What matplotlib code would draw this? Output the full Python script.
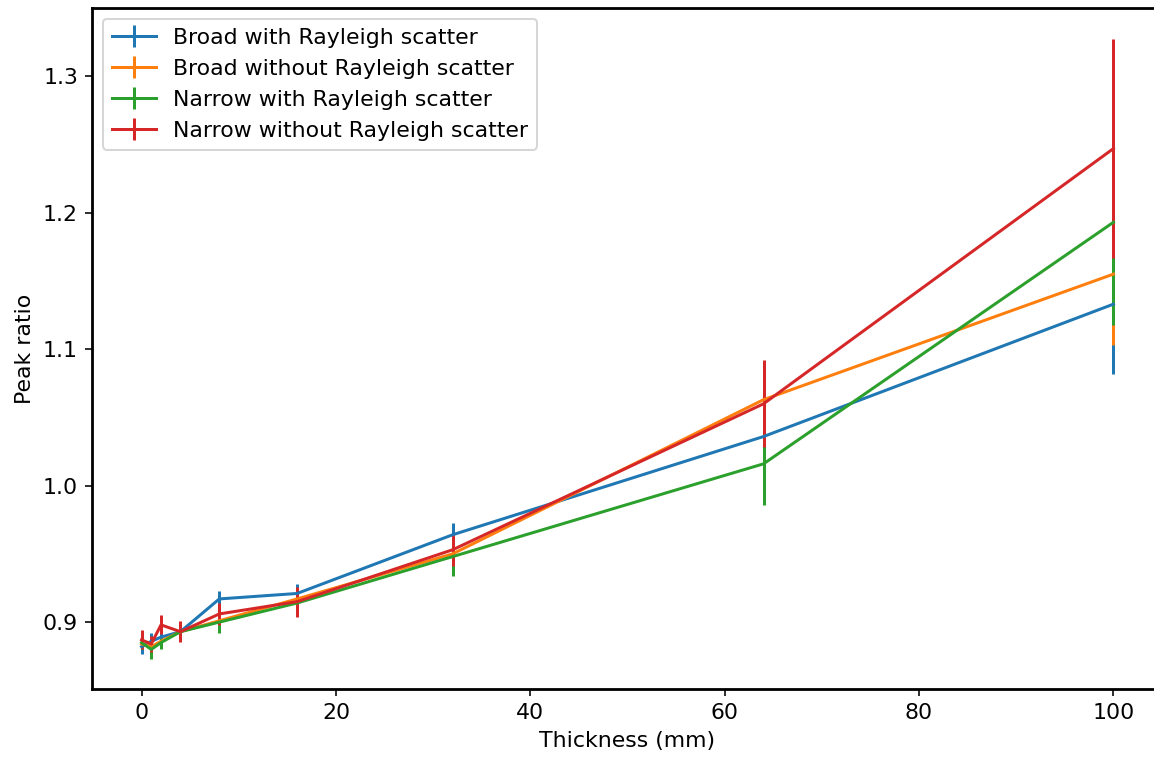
import matplotlib
matplotlib.use('Agg')
import matplotlib.pyplot as plt

thickness = [0, 1, 2, 4, 8, 16, 32, 64, 100]

broad_ray = [0.882, 0.886, 0.889, 0.893, 0.917, 0.921, 0.964, 1.036, 1.133]
broad_ray_err = [0.005, 0.006, 0.005, 0.005, 0.006, 0.007, 0.009, 0.025, 0.051]
broad_noray = [0.884, 0.882, 0.886, 0.893, 0.901, 0.917, 0.950, 1.063, 1.155]
broad_noray_err = [0.004, 0.004, 0.004, 0.004, 0.006, 0.007, 0.010, 0.028, 0.052]
narrow_ray = [0.885, 0.880, 0.885, 0.893, 0.900, 0.914, 0.948, 1.016, 1.193]
narrow_ray_err = [0.005, 0.007, 0.005, 0.005, 0.008, 0.009, 0.014, 0.030, 0.075]
narrow_noray = [0.887, 0.884, 0.898, 0.893, 0.906, 0.915, 0.953, 1.060, 1.247]
narrow_noray_err = [0.007, 0.006, 0.007, 0.0075, 0.008, 0.011, 0.012, 0.032, 0.080]

plt.rcParams['font.size'] = 11

fig = plt.figure(figsize=(1154 / 144, 760 / 144), dpi=144)
ax = fig.add_axes([92 / 1154, 71 / 760, 1071 / 1154, 681 / 760])

ax.errorbar(thickness, broad_ray, yerr=broad_ray_err, label='Broad with Rayleigh scatter')
ax.errorbar(thickness, broad_noray, yerr=broad_noray_err, label='Broad without Rayleigh scatter')
ax.errorbar(thickness, narrow_ray, yerr=narrow_ray_err, label='Narrow with Rayleigh scatter')
ax.errorbar(thickness, narrow_noray, yerr=narrow_noray_err, label='Narrow without Rayleigh scatter')

ax.set_xlim(-5.1, 105.1)
ax.set_ylim(0.851, 1.35)
ax.set_yticks([0.9, 1.0, 1.1, 1.2, 1.3])
ax.set_xlabel('Thickness (mm)')
ax.set_ylabel('Peak ratio')
for s in ax.spines.values():
    s.set_linewidth(1.4)
ax.legend(loc='upper left')

fig.savefig('out.png', dpi=144)
